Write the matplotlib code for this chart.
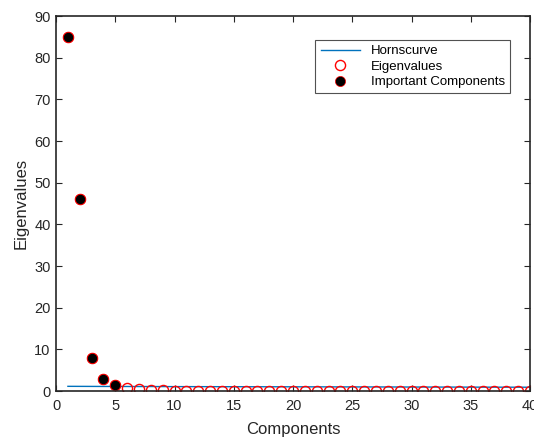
import numpy as np
import matplotlib
matplotlib.use("Agg")
import matplotlib.pyplot as plt

plt.rcParams['font.family'] = ['Liberation Sans', 'DejaVu Sans']

# data
components = np.arange(1, 41)
eigenvalues = [85.0, 46.0, 8.0, 2.8, 1.5, 0.7, 0.4, 0.2, 0.15, 0.12,
               0.1, 0.1, 0.08, 0.08, 0.07, 0.06, 0.06, 0.05, 0.05, 0.05,
               0.04, 0.04, 0.04, 0.03, 0.03, 0.03, 0.03, 0.02, 0.02, 0.02,
               0.02, 0.02, 0.01, 0.01, 0.01, 0.01, 0.01, 0.01, 0.0, 0.0]
hornscurve = [1.15, 1.14, 1.13, 1.12, 1.12, 1.11, 1.1, 1.1, 1.09, 1.08,
              1.08, 1.07, 1.07, 1.06, 1.06, 1.05, 1.05, 1.04, 1.04, 1.03,
              1.03, 1.02, 1.02, 1.01, 1.01, 1.0, 1.0, 0.99, 0.99, 0.98,
              0.98, 0.97, 0.97, 0.96, 0.96, 0.95, 0.95, 0.94, 0.94, 0.93]
n_important = 5

fig = plt.figure(figsize=(5.34, 4.37), dpi=100)
ax = fig.add_axes([0.105, 0.105, 0.8875, 0.858])

ax.plot(components, hornscurve, color='#0072BD', lw=1.0, label='Hornscurve')
ax.plot(components, eigenvalues, 'o', mfc='none', mec='red', ms=7.3, mew=1.0,
        label='Eigenvalues')
ax.plot(components[:n_important], eigenvalues[:n_important], 'o', color='black',
        mec='red', ms=7.3, mew=0.5, label='Important Components')

ax.set_xlim(0, 40)
ax.set_ylim(0, 90)
ax.set_xticks(np.arange(0, 41, 5))
ax.set_yticks(np.arange(0, 91, 10))
ax.tick_params(direction='in', top=True, right=True, length=4, width=0.8,
               labelsize=10.5, colors='#262626')
ax.tick_params(axis='x', pad=6)
ax.tick_params(axis='y', pad=4)
for s in ax.spines.values():
    s.set_linewidth(1.2)
    s.set_color('#262626')

ax.set_xlabel('Components', fontsize=12, color='#262626', labelpad=6)
ax.set_ylabel('Eigenvalues', fontsize=12, color='#262626', labelpad=4)

leg = ax.legend(loc='upper right', bbox_to_anchor=(0.972, 0.955), fontsize=9.5,
                frameon=True, fancybox=False, edgecolor='#262626',
                handlelength=3, borderpad=0.4, labelspacing=0.25)
leg.get_frame().set_linewidth(0.8)

fig.savefig('out.png', dpi=100)
